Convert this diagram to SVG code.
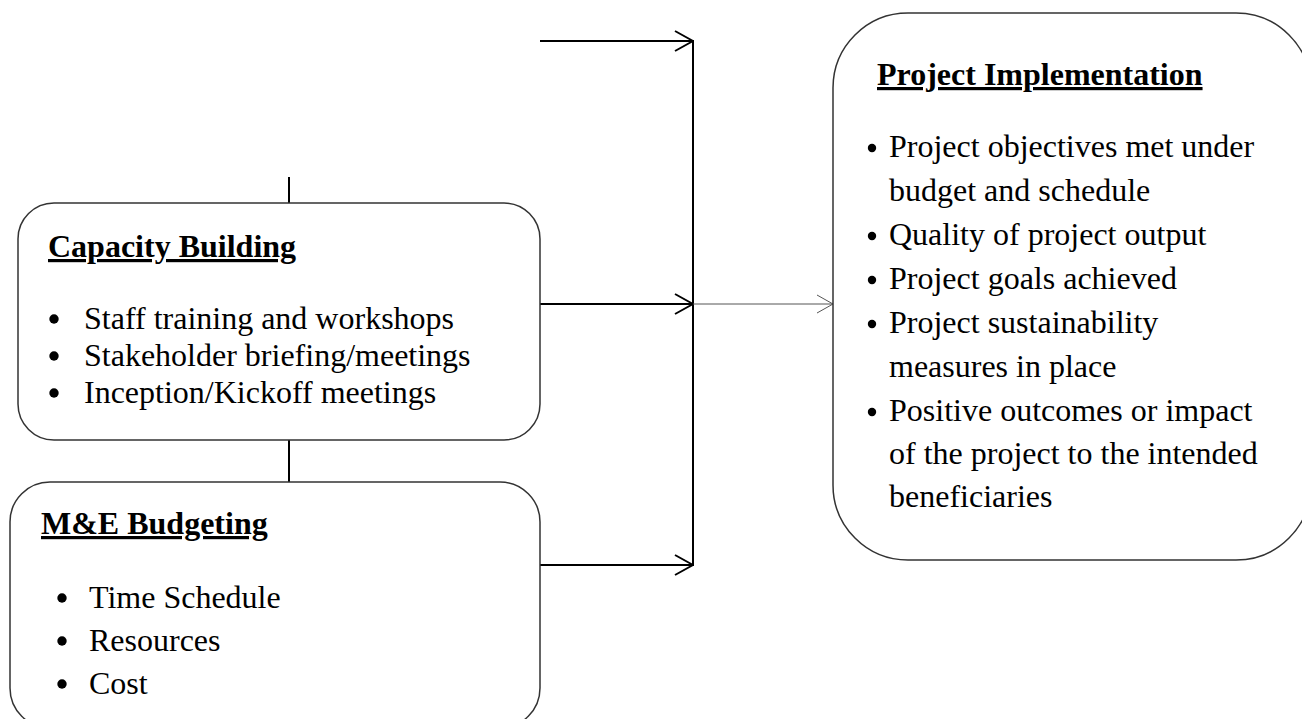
<svg xmlns="http://www.w3.org/2000/svg" width="1302" height="719" viewBox="0 0 1302 719">
  <defs>
    <style>
      .box { fill: #ffffff; stroke: #333333; stroke-width: 1.5; }
      .title { font-family: "Liberation Serif", "Times New Roman", serif; font-size: 32px; font-weight: bold; text-decoration: underline; fill: #000000; }
      .item { font-family: "Liberation Serif", "Times New Roman", serif; font-size: 32px; fill: #000000; }
      .dot { fill: #000000; }
      .wire { stroke: #000000; stroke-width: 2; fill: none; }
      .thin { stroke: #555555; stroke-width: 1; fill: none; }
    </style>
    <marker id="head" viewBox="0 0 20 22" refX="19" refY="11" markerWidth="20" markerHeight="22" markerUnits="userSpaceOnUse" orient="auto">
      <path d="M1 1 L19 11 L1 21" fill="none" stroke="#000000" stroke-width="2"/>
    </marker>
    <marker id="headThin" viewBox="0 0 18 20" refX="17" refY="10" markerWidth="18" markerHeight="20" markerUnits="userSpaceOnUse" orient="auto">
      <path d="M1 1 L17 10 L1 19" fill="none" stroke="#555555" stroke-width="1"/>
    </marker>
  </defs>

  <rect width="1302" height="719" fill="#ffffff"/>

  <!-- connectors -->
  <g id="connectors">
    <line class="wire" x1="289" y1="177" x2="289" y2="209"/>
    <line class="wire" x1="289" y1="437" x2="289" y2="483"/>
    <line class="wire" x1="693" y1="40" x2="693" y2="566"/>
    <line class="wire" x1="540" y1="41" x2="693" y2="41" marker-end="url(#head)"/>
    <line class="wire" x1="540" y1="304" x2="693" y2="304" marker-end="url(#head)"/>
    <line class="wire" x1="540" y1="565" x2="693" y2="565" marker-end="url(#head)"/>
    <line class="thin" x1="693" y1="304" x2="833" y2="304" marker-end="url(#headThin)"/>
  </g>

  <!-- Capacity Building -->
  <g id="capacity-building">
    <rect class="box" x="18" y="203" width="522" height="237" rx="36" ry="36"/>
    <text class="title" x="48" y="257">Capacity Building</text>
    <circle class="dot" cx="54" cy="319" r="4.7"/>
    <text class="item" x="84" y="329">Staff training and workshops</text>
    <circle class="dot" cx="54" cy="356" r="4.7"/>
    <text class="item" x="84" y="366">Stakeholder briefing/meetings</text>
    <circle class="dot" cx="54" cy="393" r="4.7"/>
    <text class="item" x="84" y="403">Inception/Kickoff meetings</text>
  </g>

  <!-- M&E Budgeting -->
  <g id="me-budgeting">
    <rect class="box" x="10" y="482" width="530" height="246" rx="40" ry="40"/>
    <text class="title" x="41" y="534">M&amp;E Budgeting</text>
    <circle class="dot" cx="62" cy="598" r="4.7"/>
    <text class="item" x="89" y="608">Time Schedule</text>
    <circle class="dot" cx="62" cy="641" r="4.7"/>
    <text class="item" x="89" y="651">Resources</text>
    <circle class="dot" cx="62" cy="684" r="4.7"/>
    <text class="item" x="89" y="694">Cost</text>
  </g>

  <!-- Project Implementation -->
  <g id="project-implementation">
    <rect class="box" x="833" y="13" width="478" height="547" rx="75" ry="75"/>
    <text class="title" x="877" y="85">Project Implementation</text>
    <circle class="dot" cx="872" cy="148" r="4.2"/>
    <text class="item" x="889" y="157">Project objectives met under</text>
    <text class="item" x="889" y="201">budget and schedule</text>
    <circle class="dot" cx="872" cy="236" r="4.2"/>
    <text class="item" x="889" y="245">Quality of project output</text>
    <circle class="dot" cx="872" cy="280" r="4.2"/>
    <text class="item" x="889" y="289">Project goals achieved</text>
    <circle class="dot" cx="872" cy="324" r="4.2"/>
    <text class="item" x="889" y="333">Project sustainability</text>
    <text class="item" x="889" y="377">measures in place</text>
    <circle class="dot" cx="872" cy="412" r="4.2"/>
    <text class="item" x="889" y="421">Positive outcomes or impact</text>
    <text class="item" x="889" y="464">of the project to the intended</text>
    <text class="item" x="889" y="507">beneficiaries</text>
  </g>
</svg>
